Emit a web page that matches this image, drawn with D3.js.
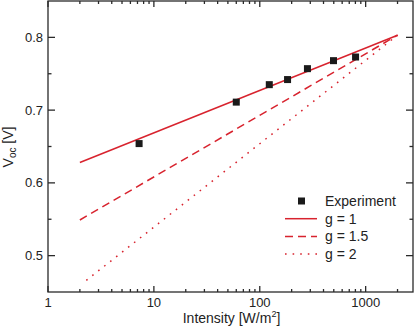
<!DOCTYPE html>
<html>
<head>
<meta charset="utf-8">
<script src="https://cdn.jsdelivr.net/npm/d3@7"></script>
<style>
  body { margin: 0; background: #fff; }
  text { font-family: "Liberation Sans", Arial, sans-serif; fill: #222; }
</style>
</head>
<body>
<svg width="417" height="334"></svg>
<script>
// measured points
var expIntensity = [7.25, 60, 123, 183, 282, 497, 803];
var expVoc       = [0.654, 0.711, 0.735, 0.742, 0.757, 0.768, 0.773];

// ideality factor lines (endpoints)
var g1Int  = [2, 2000],   g1Voc  = [0.628, 0.803];
var g15Int = [2, 2000],   g15Voc = [0.549, 0.803];
var g2Int  = [2.3, 2000], g2Voc  = [0.466, 0.803];

var xMajor = [1, 10, 100, 1000];
var xMinor = [2,3,4,5,6,7,8,9,20,30,40,50,60,70,80,90,200,300,400,500,600,700,800,900,2000];
var yMajor = [0.5, 0.6, 0.7, 0.8];
var yMinor = [0.55, 0.65, 0.75];

var legendLabels = ["Experiment", "g = 1", "g = 1.5", "g = 2"];

svg = d3.select("svg");
var margin = {left: 48, right: 4, top: 1, bottom: 42};
var W = +svg.attr("width"), H = +svg.attr("height");
var width = W - margin.left - margin.right;
var height = H - margin.top - margin.bottom;
var red = "#d8232e";
var axisCol = "#2a2a2a";

x = d3.scaleLog().domain([1, 2800]).range([0, width]);
y = d3.scaleLinear().domain([0.45, 0.85]).range([height, 0]);

plot = svg.append("g").attr("transform", "translate(" + [margin.left, margin.top] + ")");

// lines
line = d3.line().x(function(d) { return x(d[0]); }).y(function(d) { return y(d[1]); });
var series = [
  {i: g1Int,  v: g1Voc,  dash: null},
  {i: g15Int, v: g15Voc, dash: "8,5"},
  {i: g2Int,  v: g2Voc,  dash: "1.6,6"}
];
series.forEach(function(s) {
  plot.append("path")
    .attr("d", line(s.i.map(function(d, k) { return [d, s.v[k]]; })))
    .attr("fill", "none")
    .attr("stroke", red)
    .attr("stroke-width", 1.5)
    .attr("stroke-dasharray", s.dash);
});

// experiment
plot.selectAll("rect.pt").data(expIntensity).enter().append("rect")
  .attr("class", "pt")
  .attr("x", function(d) { return x(d) - 3.5; })
  .attr("y", function(d, i) { return y(expVoc[i]) - 3.5; })
  .attr("width", 7).attr("height", 7)
  .attr("fill", "#1a1a1a");

// frame + ticks (inward on all sides)
var ax = plot.append("g").attr("stroke", axisCol).attr("stroke-width", 1.3);
ax.append("rect").attr("width", width).attr("height", height).attr("fill", "none");
function xt(vals, len) {
  vals.forEach(function(v) {
    ax.append("line").attr("x1", x(v)).attr("x2", x(v)).attr("y1", height).attr("y2", height - len);
    ax.append("line").attr("x1", x(v)).attr("x2", x(v)).attr("y1", 0).attr("y2", len);
  });
}
function yt(vals, len) {
  vals.forEach(function(v) {
    ax.append("line").attr("x1", 0).attr("x2", len).attr("y1", y(v)).attr("y2", y(v));
    ax.append("line").attr("x1", width).attr("x2", width - len).attr("y1", y(v)).attr("y2", y(v));
  });
}
xt(xMajor, 6); xt(xMinor, 3);
yt(yMajor, 7); yt(yMinor, 3.5);

// tick labels
xMajor.forEach(function(v) {
  plot.append("text").attr("x", x(v)).attr("y", height + 15)
    .attr("text-anchor", "middle").attr("font-size", 13).text(v);
});
yMajor.forEach(function(v) {
  plot.append("text").attr("x", -5).attr("y", y(v)).attr("dy", "0.35em")
    .attr("text-anchor", "end").attr("font-size", 13).text(d3.format(".1f")(v));
});

// axis titles
var xt1 = svg.append("text").attr("x", margin.left + width / 2 + 1).attr("y", 323)
  .attr("text-anchor", "middle").attr("font-size", 14);
xt1.append("tspan").text("Intensity [W/m");
xt1.append("tspan").attr("font-size", 9).attr("dy", -6).text("2");
xt1.append("tspan").attr("dy", 6).text("]");

var yt1 = svg.append("text").attr("transform", "translate(13,147) rotate(-90)")
  .attr("text-anchor", "middle").attr("font-size", 14);
yt1.append("tspan").text("V");
yt1.append("tspan").attr("font-size", 10).attr("dy", 3).text("oc");
yt1.append("tspan").attr("dy", -3).text(" [V]");

// legend
var leg = svg.append("g").attr("transform", "translate(285,201)");
var rowH = 17.7;
leg.append("rect").attr("x", 13).attr("y", -3.5).attr("width", 7).attr("height", 7).attr("fill", "#1a1a1a");
series.forEach(function(s, k) {
  leg.append("line").attr("x1", 0).attr("x2", 32)
    .attr("y1", rowH * (k + 1)).attr("y2", rowH * (k + 1))
    .attr("stroke", red).attr("stroke-width", 1.5).attr("stroke-dasharray", s.dash);
});
legendLabels.forEach(function(t, k) {
  leg.append("text").attr("x", 40).attr("y", rowH * k).attr("dy", "0.36em")
    .attr("font-size", 14).text(t);
});
</script>
</body>
</html>
